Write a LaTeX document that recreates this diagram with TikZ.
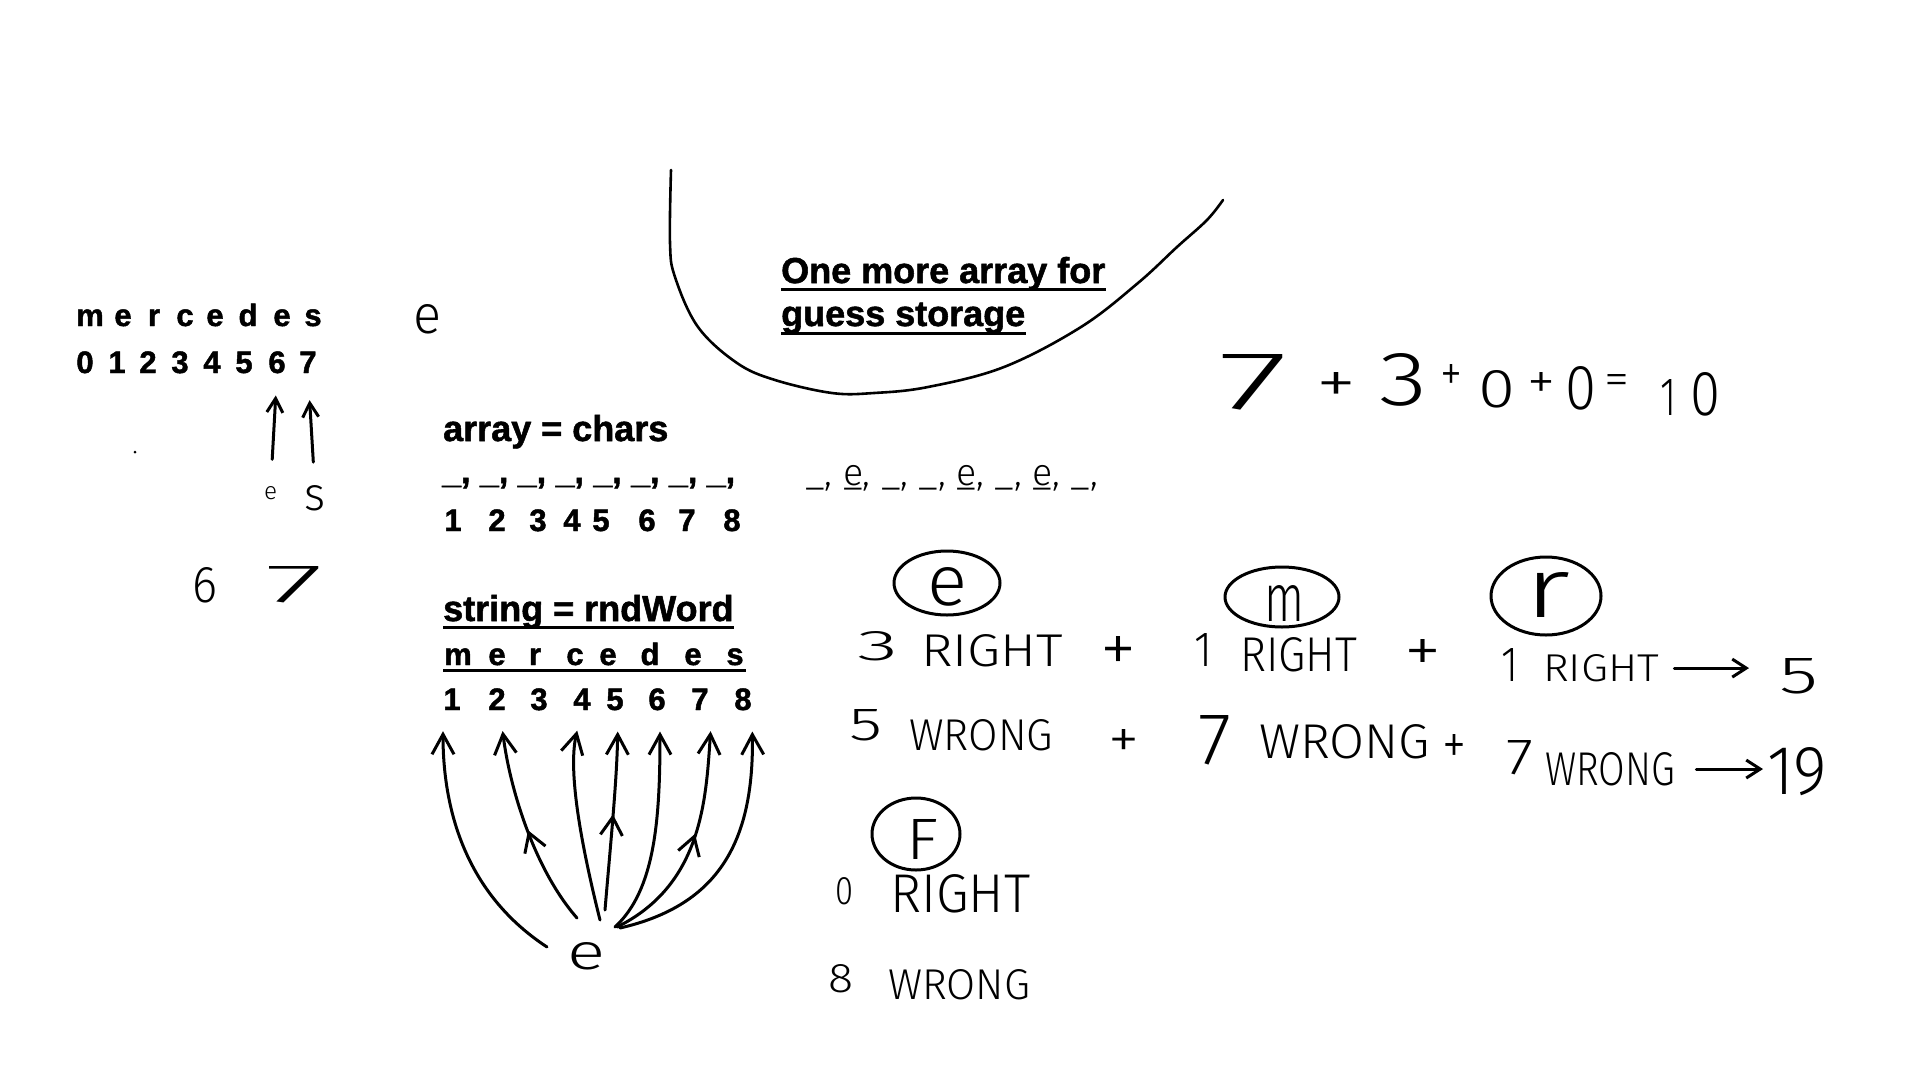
\documentclass[tikz,border=0pt]{standalone}
\usepackage{fontspec}
\usepackage{graphicx}
\setmainfont{Liberation Sans}[BoldFeatures={FakeBold=1.5}]
\newfontfamily\handf{Fira Sans Light}
\usetikzlibrary{arrows.meta,shapes.geometric,decorations.markings,calc}
\newcommand\hwn[6]{\node[hand] (#1) at (#2,#3) {\resizebox{#4pt}{#5pt}{#6}};}
\begin{document}
\begin{tikzpicture}[x=1pt,y=-1pt,
  lbl/.style={font=\fontsize{36}{40}\selectfont\bfseries, inner sep=0pt, anchor=base west},
  ch/.style={font=\fontsize{31}{34}\selectfont\bfseries, inner sep=0pt, anchor=base},
  hand/.style={inner sep=0pt, anchor=south west, font=\handf\fontsize{30}{34}\selectfont},
  ink/.style={line width=3pt, line cap=round, line join=round},
  uline/.style={line width=3pt},
  circ/.style={draw, ellipse, line width=3pt, inner sep=0pt},
  fanarr/.style={ink, -{Straight Barb[length=20pt,width=22pt]}, shorten >=21pt},
  sarr/.style={ink, -{Straight Barb[length=14pt,width=16pt]}},
  harr/.style={ink, -{Straight Barb[length=14pt,width=18pt]}},
  midarrow/.style={postaction={decorate,decoration={markings,mark=at position #1 with {\arrow[line width=3pt]{Straight Barb[length=18pt,width=22pt]}}}}}
]
\fill[white] (0,0) rectangle (1920,1080);
\useasboundingbox (0,0) rectangle (1920,1080);

% ---- top-left block ----
\foreach \c/\x [count=\i] in {m/90,e/123,r/154,c/185,e/215,d/248,e/282,s/313}
  \node[ch] (ta\i) at (\x,326) {\c};
\foreach \c/\x in {0/85,1/117,2/148,3/180,4/212,5/244,6/277,7/308}
  \node[ch] (tb\c) at (\x,373) {\c};
\hwn{tle}{413}{334}{28}{29}{e}
\hwn{hse}{264}{500}{13}{13}{e}
\hwn{hss}{304}{511}{21}{25}{s}
\hwn{six}{192}{603}{25}{35}{6}
\hwn{sev}{265}{603}{58}{36}{7}
\fill (135,452) circle (1.5pt);
\draw[sarr, shorten <=27pt, shorten >=22pt] (hse.north) -- (tb6.south);
\draw[sarr, shorten <=23pt, shorten >=27pt] (hss.north) -- (tb7.south);

% ---- middle block ----
\node[lbl] (arr) at (443,441) {array = chars};
\node[lbl, font=\fontsize{34}{38}\selectfont\bfseries] (us) at (442,483) {\_, \_, \_, \_, \_, \_, \_, \_,};
\foreach \c/\x in {1/453,2/497,3/538,4/572,5/601,6/647,7/687,8/732}
  \node[ch] (md\c) at (\x,531) {\c};
\node[hand, anchor=base west] (hrow) at (805,485)
  {\resizebox{293pt}{!}{\_, \rlap{\_}e, \_, \_, \rlap{\_}e, \_, \rlap{\_}e, \_,}};

\node[lbl] (str) at (443,621) {string = rndWord};
\draw[uline] ($(str.base west)+(0,6)$) -- ($(str.base east)+(0,6)$);
\foreach \c/\x [count=\i] in {m/458,e/497,r/535,c/575,e/608,d/650,e/693,s/735}
  \node[ch] (bm\i) at (\x,665) {\c};
\draw[uline] ($(bm1.base west)+(-1,5)$) -- ($(bm8.base east)+(2,5)$);
\foreach \c/\x in {1/452,2/497,3/539,4/582,5/615,6/657,7/700,8/743}
  \node[ch] (bd\c) at (\x,710) {\c};

\hwn{fe}{567}{970}{38}{27}{e}
\coordinate (f1) at (547,947);
\coordinate (f2) at (577,918);
\coordinate (f4) at (600,920);
\coordinate (f5) at (605,910);
\coordinate (f6) at (615,927);
\coordinate (f7) at (617,927);
\coordinate (f8) at (620,928);
\draw[fanarr] (f1) .. controls (460,890) and (443,800) .. ([xshift=-9pt]bd1.south);
\draw[fanarr, midarrow=0.45] (f2) .. controls (535,870) and (510,790) .. ([xshift=3pt]bd2.south);
\draw[fanarr] (f4) .. controls (580,840) and (568,770) .. (bd4.south);
\draw[fanarr, midarrow=0.48] (f5) .. controls (610,850) and (617,780) .. ([xshift=3pt]bd5.south);
\draw[fanarr] (f6) .. controls (655,890) and (660,820) .. ([xshift=3pt]bd6.south);
\draw[fanarr, midarrow=0.5] (f7) .. controls (702,885) and (706,800) .. ([xshift=12pt]bd7.south);
\draw[fanarr] (f8) .. controls (720,905) and (754,840) .. ([xshift=9pt]bd8.south);

% ---- bowl and note ----
\draw[ink, line width=2.6pt] plot[smooth, tension=0.6] coordinates {(671,170) (670,243) (675,277) (698,327) (737,363) (775,380) (832,393) (874,393) (928,387) (1004,367) (1081,327) (1138,283) (1177,247) (1207,220) (1223,200)};
\node[lbl] (n1) at (781,283) {One more array for};
\draw[uline] ($(n1.base west)+(0,6)$) -- ($(n1.base east)+(0,6)$);
\node[lbl] (n2) at (781,326) {guess storage};
\draw[uline] ($(n2.base west)+(0,7)$) -- ($(n2.base east)+(0,7)$);

% ---- equation ----
\hwn{q1}{1218}{410}{70}{55}{7}
\hwn{q2}{1316}{404}{40}{31}{+}
\hwn{q3}{1379}{407}{48}{52}{3}
\hwn{q4}{1440}{392}{22}{27}{+}
\hwn{q5}{1478}{408}{37}{37}{0}
\hwn{q6}{1527}{400}{28}{27}{+}
\hwn{q7}{1565}{410}{31}{43}{0}
\hwn{q8}{1604}{395}{25}{20}{=}
\hwn{q9}{1660}{416}{16}{36}{1}
\hwn{q10}{1690}{416}{30}{43}{0}

% ---- circled letters ----
\node[circ, minimum width=106pt, minimum height=64pt] (ce) at (947,583) {};
\hwn{le}{927}{606}{40}{38}{e}
\node[circ, minimum width=114pt, minimum height=60pt] (cm) at (1282,597) {};
\hwn{lm}{1264}{622}{40}{36}{m}
\node[circ, minimum width=110pt, minimum height=78pt] (cr) at (1546,596) {};
\hwn{lr}{1524}{618}{46}{45}{r}
\node[circ, minimum width=88pt, minimum height=72pt] (cf) at (916,834) {};
\hwn{lf}{906}{860}{32}{40}{F}

% ---- row 1 ----
\hwn{r1n}{857}{661}{41}{29}{3}
\hwn{r1w}{921}{667}{142}{32}{RIGHT}
\hwn{p1}{1100}{673}{36}{36}{+}
\hwn{r2n}{1194}{667}{18}{33}{1}
\hwn{r2w}{1240}{672}{117}{34}{RIGHT}
\hwn{p2}{1404}{673}{37}{33}{+}
\hwn{r3n}{1501}{682}{17}{33}{1}
\hwn{r3w}{1543}{682}{116}{27}{RIGHT}
\hwn{res1}{1779}{694}{39}{35}{5}
\draw[harr, shorten <=15pt, shorten >=30pt] (r3w.east) -- (r3w.east -| res1.west);

% ---- row 2 ----
\hwn{w1n}{849}{741}{33}{31}{5}
\hwn{w1w}{909}{751}{144}{31}{WRONG}
\hwn{p3}{1108}{759}{31}{29}{+}
\hwn{w2n}{1198}{765}{33}{49}{7}
\hwn{w2w}{1259}{759}{171}{34}{WRONG}
\hwn{p4}{1442}{765}{24}{30}{+}
\hwn{w3n}{1506}{775}{27}{34}{7}
\hwn{w3w}{1545}{786}{130}{33}{WRONG}
\hwn{res2}{1767}{796}{60}{47}{19}
\draw[harr, shorten <=21pt, shorten >=4pt] (w3w.east) -- (w3w.east -| res2.west);

% ---- F block ----
\hwn{f0}{835}{905}{18}{27}{0}
\hwn{frw}{890}{913}{140}{38}{RIGHT}
\hwn{f8}{828}{993}{25}{28}{8}
\hwn{fww}{888}{1000}{142}{30}{WRONG}
\end{tikzpicture}
\end{document}
